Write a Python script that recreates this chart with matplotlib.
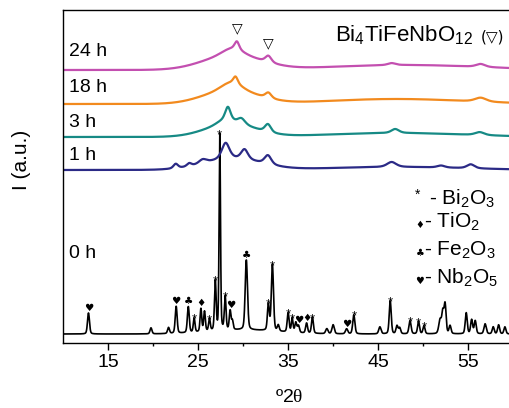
import numpy as np
import matplotlib
matplotlib.use("Agg")
import matplotlib.pyplot as plt

plt.rcParams['font.family'] = ['Liberation Sans', 'DejaVu Sans']
plt.rcParams['mathtext.fontset'] = 'custom'
plt.rcParams['mathtext.rm'] = 'Liberation Sans'
plt.rcParams['mathtext.it'] = 'Liberation Sans:italic'
plt.rcParams['mathtext.sf'] = 'Liberation Serif'

# ---------------- data ----------------
two_theta_min, two_theta_max = 10, 60
samples = ['0 h', '1 h', '3 h', '18 h', '24 h']
colors = ['#000000', '#2B2A86', '#168A85', '#F28A1E', '#C34FB0']
baselines = [9, 173, 206, 239, 273]

# peaks: (2theta, height, fwhm)
peaks_0h = [(12.8, 21, 0.26), (19.75, 6, 0.25), (21.7, 6, 0.25), (22.55, 27, 0.25),
            (23.9, 26, 0.25), (24.55, 14, 0.22), (25.3, 23, 0.22), (25.7, 20, 0.22),
            (26.25, 12, 0.22), (26.9, 49, 0.22), (27.4, 196, 0.18), (28.0, 33, 0.22),
            (28.55, 19, 0.22), (28.8, 9, 0.22), (30.35, 70, 0.3), (32.8, 26, 0.25),
            (33.25, 66, 0.28), (33.9, 6, 0.25), (35.0, 19, 0.25), (35.45, 14, 0.22),
            (35.85, 10, 0.25), (36.15, 7, 0.25), (37.05, 10, 0.25), (37.7, 16, 0.25),
            (39.3, 5, 0.3), (40.0, 9, 0.3), (41.5, 5, 0.3), (42.3, 19, 0.28),
            (45.2, 7, 0.3), (46.35, 33, 0.26), (47.1, 8, 0.26), (47.4, 6, 0.26),
            (48.55, 13, 0.28), (49.5, 12, 0.26), (50.1, 8, 0.26), (51.9, 14, 0.35),
            (52.2, 20, 0.26), (52.45, 29, 0.26), (53.0, 8, 0.26), (54.8, 21, 0.26),
            (55.4, 14, 0.26), (55.8, 13, 0.26), (56.9, 10, 0.3), (57.8, 7, 0.26),
            (58.4, 9, 0.26), (59.1, 7, 0.26), (30.0, 4, 9.0)]
peaks_1h = [(28.8, 11, 7.5), (28.05, 16, 1.0), (30.15, 10, 0.9), (32.75, 9, 0.9),
            (22.5, 4.5, 0.6), (24.0, 3, 0.6), (25.5, 4, 1.0), (47.0, 3, 18.0),
            (46.5, 5, 1.2), (52.0, 2, 1.0), (55.3, 4, 1.0)]
peaks_3h = [(28.6, 13, 6.5), (28.0, 4, 2.0), (28.3, 13, 0.7), (29.8, 6, 1.0),
            (32.75, 8, 0.8), (47.0, 4, 18.0), (46.9, 4, 1.0), (56.3, 3, 1.2)]
peaks_18h = [(28.6, 14, 7.0), (28.7, 7, 2.5), (29.15, 7, 0.6), (32.8, 5.5, 0.8),
             (47.0, 5, 18.0), (56.4, 4, 1.5)]
peaks_24h = [(28.8, 15, 7.5), (28.8, 6, 2.5), (29.3, 8, 0.6), (32.8, 6.5, 0.8),
             (48.0, 5, 20.0), (46.5, 2, 1.0), (56.4, 3, 1.2)]
all_peaks = [peaks_0h, peaks_1h, peaks_3h, peaks_18h, peaks_24h]

# phase markers on 0 h pattern: (2theta, symbol)
phase_marks = [(12.8, '♥'), (22.55, '♥'), (23.9, '♣'), (24.55, '*'), (25.3, '♦'),
               (26.25, '*'), (26.9, '*'), (27.4, '*'), (28.0, '*'), (28.65, '♥'),
               (30.35, '♣'), (32.8, '*'), (33.25, '*'), (35.0, '*'), (35.45, '*'),
               (36.15, '♥'), (37.05, '♦'), (37.7, '*'), (41.5, '♥'), (42.3, '*'),
               (46.35, '*'), (48.55, '*'), (49.5, '*'), (50.1, '*')]
product_marks = [29.3, 32.8]

legend_syms = ['*', '♦', '♣', '♥']
legend_names = ['- Bi$_2$O$_3$', '- TiO$_2$', '- Fe$_2$O$_3$', '- Nb$_2$O$_5$']

# ---------------- build profiles ----------------
x = np.linspace(two_theta_min, two_theta_max, 2501)


def profile(base, peaks, eta):
    y = np.full_like(x, base, dtype=float)
    for c, h, w in peaks:
        g = np.exp(-4 * np.log(2) * ((x - c) / w) ** 2)
        if w < 2:
            l = 1.0 / (1.0 + (2 * (x - c) / w) ** 2)
            y += h * (eta * l + (1 - eta) * g)
        else:
            y += h * g
    return y


curves = [profile(b, p, 0.3 if i == 0 else 0.5) for i, (b, p) in enumerate(zip(baselines, all_peaks))]

# ---------------- figure ----------------
fig = plt.figure(figsize=(5.10, 4.08), dpi=100)
ax = fig.add_axes([63.3 / 510, (408 - 343) / 408, 449.7 / 510, 333 / 408])

for i, (c, col) in enumerate(zip(curves, colors)):
    ax.plot(x, c, color=col, lw=1.2 if i == 0 else 1.6)

ax.set_xlim(two_theta_min, two_theta_max)
ax.set_ylim(0, 333)
ax.set_yticks([])
ax.set_xticks([15, 25, 35, 45, 55])
ax.set_xticks([20, 30, 40, 50], minor=True)
ax.tick_params(axis='x', which='major', direction='out', length=5, width=1, labelsize=14, pad=3)
ax.tick_params(axis='x', which='minor', direction='out', length=2.5, width=1)
for s in ax.spines.values():
    s.set_linewidth(1.0)

# phase markers
c0 = curves[0]
for pos, sym in phase_marks:
    m = np.abs(x - pos) <= 0.12
    ytop = c0[m].max()
    if sym == '*':
        ax.annotate(sym, (pos, ytop), xytext=(0, -3.5), textcoords='offset points',
                    ha='center', va='baseline', fontsize=9.5)
    else:
        ax.annotate(sym, (pos, ytop), xytext=(0, 1.5), textcoords='offset points',
                    ha='center', va='baseline', fontsize=7.5, family=['DejaVu Sans'])

c24 = curves[4]
for pos in product_marks:
    m = np.abs(x - pos) <= 0.3
    ytop = c24[m].max()
    ax.annotate('▽', (pos, ytop), xytext=(0, 4), textcoords='offset points',
                ha='center', va='bottom', fontsize=10, family=['DejaVu Sans'])

# sample labels
label_y = [0.270, 0.562, 0.661, 0.766, 0.874]
for lab, ly in zip(samples, label_y):
    ax.text(0.012, ly, lab, transform=ax.transAxes, ha='left', va='center', fontsize=14)

# title
ax.text((473 - 63.3) / 449.7, 0.925, 'Bi$_4$TiFeNbO$_{12}$', transform=ax.transAxes,
        ha='right', va='center', fontsize=16)
ax.text((504 - 63.3) / 449.7, 0.919, '(▽)', transform=ax.transAxes, ha='right', va='center',
        fontsize=11, family=['DejaVu Sans'])

# legend
leg_y = [199, 222, 250, 278]
for sym, name, yp in zip(legend_syms, legend_names, leg_y):
    yf = (343 - yp) / 333
    if sym == '*':
        ax.text((418 - 63.3) / 449.7, yf + 0.012, sym, transform=ax.transAxes,
                ha='center', va='center', fontsize=10)
        ax.text((429 - 63.3) / 449.7, yf, name, transform=ax.transAxes,
                ha='left', va='center', fontsize=15)
    else:
        ax.text((420 - 63.3) / 449.7, yf - 0.008, sym, transform=ax.transAxes,
                ha='center', va='center', fontsize=7, family=['DejaVu Sans'])
        ax.text((424 - 63.3) / 449.7, yf, name, transform=ax.transAxes,
                ha='left', va='center', fontsize=15)

fig.text(22 / 510, 1 - 160 / 408, 'I (a.u.)', rotation=90, ha='center', va='center', fontsize=15)
fig.text(289 / 510, 1 - 398 / 408, 'º2$\\mathsf{\\theta}$', ha='center', va='center', fontsize=14)

fig.savefig('out.png', dpi=100)
